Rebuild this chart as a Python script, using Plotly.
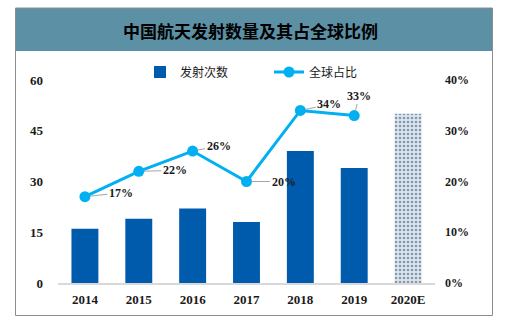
import plotly.graph_objects as go

categories = ["2014", "2015", "2016", "2017", "2018", "2019", "2020E"]
launches = [16, 19, 22, 18, 39, 34, 50]
share_years = ["2014", "2015", "2016", "2017", "2018", "2019"]
share = [0.17, 0.22, 0.26, 0.20, 0.34, 0.33]
left_ticks = [0, 15, 30, 45, 60]
right_ticks = [0, 0.1, 0.2, 0.3, 0.4]
title_text = "中国航天发射数量及其占全球比例"
bar_name = "发射次数"
line_name = "全球占比"

# label offsets (pixels) for the percentage labels
label_offsets = [(36, -4), (36, -1), (26, -5), (37, 0), (29, -6), (5, -20)]

W, H = 524, 327
ml, mr, mt, mb = 58, 89, 80, 44
pw, ph = W - ml - mr, H - mt - mb


def px_x(p):
    return (p - ml) / pw


def px_y(p):
    return (H - mb - p) / ph


num_font = dict(family="Liberation Serif, Times New Roman, serif", size=13,
                color="#1a1a1a", weight="bold")

n = len(categories)
bar_colors = ["#005BAC"] * (n - 1) + ["#D6E6F7"]
pattern_shapes = [""] * (n - 1) + ["."]
pattern_fg = ["#005BAC"] * (n - 1) + ["#4F8FD6"]

fig = go.Figure()
fig.add_trace(go.Bar(
    x=categories, y=launches, name=bar_name, width=0.5,
    marker=dict(color=bar_colors, line=dict(width=0),
                pattern=dict(shape=pattern_shapes, fgcolor=pattern_fg, fillmode="overlay",
                             size=4, solidity=0.35)),
    yaxis="y",
))
fig.add_trace(go.Scatter(
    x=share_years, y=share, name=line_name, mode="lines+markers",
    line=dict(color="#00B0F0", width=3),
    marker=dict(color="#00B0F0", size=11),
    yaxis="y2",
))

annotations = []
for yr, v, (ax, ay) in zip(share_years, share, label_offsets):
    annotations.append(dict(
        x=categories.index(yr), y=v, xref="x", yref="y2", text=f"{round(v*100)}%",
        showarrow=True, arrowhead=0, arrowwidth=1, arrowcolor="#A6A6A6",
        ax=ax, ay=ay, standoff=5,
        font=dict(family="Liberation Serif, Times New Roman, serif", size=12,
                  color="#1a1a1a", weight="bold"),
    ))

annotations.append(dict(
    x=px_x(250.5), y=px_y(31), xref="paper", yref="paper", text="<b>" + title_text + "</b>",
    showarrow=False, xanchor="center", yanchor="middle",
    font=dict(family="Noto Sans CJK SC, sans-serif", size=17, color="#000000"),
))

shapes = [
    dict(type="rect", xref="paper", yref="paper",
         x0=px_x(15.5), x1=px_x(492.5), y0=px_y(8), y1=px_y(51),
         fillcolor="#5C90A5", line=dict(width=0), layer="below"),
    dict(type="rect", xref="paper", yref="paper",
         x0=px_x(15.5), x1=px_x(492.5), y0=px_y(8), y1=px_y(315.5),
         fillcolor="rgba(0,0,0,0)", line=dict(color="#8C8C8C", width=1), layer="above"),
]

fig.update_layout(
    width=W, height=H,
    margin=dict(l=ml, r=mr, t=mt, b=mb),
    paper_bgcolor="white", plot_bgcolor="white",
    showlegend=True,
    legend=dict(orientation="h", x=px_x(140), y=px_y(72), xanchor="left", yanchor="middle",
                font=dict(family="Noto Sans CJK SC, sans-serif", size=12, color="#1a1a1a"),
                bgcolor="rgba(0,0,0,0)", itemwidth=30, tracegroupgap=0,
                entrywidth=84, entrywidthmode="pixels"),
    xaxis=dict(type="category", range=[-0.5, 6.5], showgrid=False,
               showline=True, linecolor="#D9D9D9", linewidth=1.5,
               ticks="", tickfont=num_font, ticklabelstandoff=4),
    yaxis=dict(range=[0, 60], tickvals=left_ticks, showgrid=False, zeroline=False,
               showline=False, ticks="", tickfont=num_font, ticklabelstandoff=14),
    yaxis2=dict(range=[0, 0.4], tickvals=right_ticks, tickformat=".0%", overlaying="y",
                side="right", showgrid=False, zeroline=False, showline=False, ticks="",
                tickfont=dict(num_font, size=12), ticklabelstandoff=9),
    annotations=annotations,
    shapes=shapes,
    bargap=0.5,
)

fig.write_html("out.html")
